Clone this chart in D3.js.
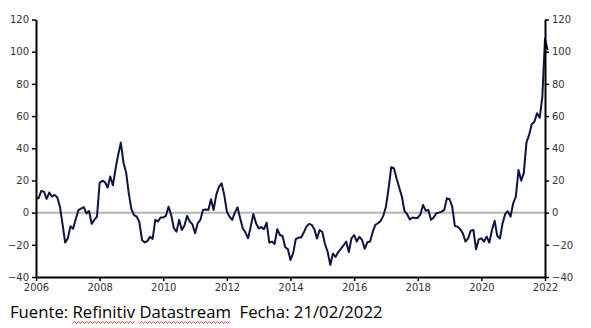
<!DOCTYPE html>
<html>
<head>
<meta charset="utf-8">
<script src="https://cdn.jsdelivr.net/npm/d3@7"></script>
<style>
  html, body { margin: 0; padding: 0; background: #ffffff; }
  svg { display: block; }
</style>
</head>
<body>
<svg id="chart" width="591" height="328"></svg>
<script>
// Monthly series, starting January 2006
const startYear = 2006;
const monthlyValues = [
  9, 9, 13.5, 13, 8.5, 12.5, 10, 11, 9.5, 4, -7, -18.6,            // 2006
  -16, -8.5, -10, -4, 1.5, 2.5, 3.5, -0.5, 1, -7, -4.5, -2.5,      // 2007
  18.5, 19.8, 19, 15.5, 22.5, 17, 27, 36, 43.5, 31, 25, 12,        // 2008
  2, -1.5, -2.5, -6, -17, -18.5, -17.7, -15, -16.3, -4.5, -5.5, -3, // 2009
  -3, -2, 3.7, -1.4, -9.7, -11.8, -4.5, -10.8, -8, -2, -5.6, -7.2, // 2010
  -12.8, -6.6, -4.5, 1.7, 2, 1.7, 8.3, 1.7, 11, 16, 18.2, 11,      // 2011
  0.6, -2.5, -4.5, 0, 3.3, -3.5, -9.7, -12.4, -15.9, -8.7, -0.8, -6.6, // 2012
  -9.7, -9, -10.3, -6.2, -18.6, -18, -19.5, -10.3, -13.9, -14.5, -21.5, -22.7, // 2013
  -29.4, -25.2, -16.5, -15.5, -15.5, -12.4, -8.7, -7, -7.6, -10.3, -16, -10.8, // 2014
  -12, -19.5, -24.2, -32.5, -25.5, -27.5, -24.5, -22.5, -20.4, -18, -24.5, -16, // 2015
  -13.9, -18, -15, -17, -22.5, -18.4, -18, -12, -7.6, -6.6, -5.2, -2, // 2016
  3.7, 15.1, 28.2, 27.6, 21.3, 15.6, 10, 1, -1, -4.3, -3, -3.3,    // 2017
  -3.3, -1, 4.8, 1.2, 1.7, -4.5, -3, -0.4, 0, 0.6, 1.7, 8.9,       // 2018
  8.3, 3.7, -8.3, -8.7, -10.3, -12.8, -18, -16, -11.2, -10.8, -22.8, -16.6, // 2019
  -16, -18, -14.9, -18.6, -10.8, -5, -14.5, -16.1, -6.6, -0.8, 0.8, -2.5, // 2020
  5.8, 9.9, 26.5, 19.9, 24.5, 43.5, 48.3, 54.9, 56.5, 61.7, 59, 72, // 2021
  108, 101                                                          // 2022
];
const yTickValues = [-40, -20, 0, 20, 40, 60, 80, 100, 120];
const xTickYears = [2006, 2008, 2010, 2012, 2014, 2016, 2018, 2020, 2022];
const footerParts = [
  { text: "Fuente: ", flagged: false },
  { text: "Refinitiv", flagged: true },
  { text: " ", flagged: false },
  { text: "Datastream", flagged: true },
  { text: "  Fecha: 21/02/2022", flagged: false }
];

const series = monthlyValues.map((v, i) => ({ t: startYear + i / 12, v }));

const svg = d3.select("#chart");
const plot = { left: 36, right: 545, top: 19.5, bottom: 277 };

const x = d3.scaleLinear().domain([2006, 2022]).range([plot.left, plot.right]);
const y = d3.scaleLinear().domain([-40, 120]).range([plot.bottom, plot.top]);

// zero reference line
svg.append("line")
  .attr("x1", plot.left).attr("x2", plot.right)
  .attr("y1", y(0)).attr("y2", y(0))
  .attr("stroke", "#b4b4b4").attr("stroke-width", 2);

// series line
svg.append("path")
  .datum(series)
  .attr("fill", "none")
  .attr("stroke", "#0c1444")
  .attr("stroke-width", 2)
  .attr("stroke-linejoin", "round")
  .attr("d", d3.line().x(d => x(d.t)).y(d => y(d.v)));

function styleAxis(g) {
  g.select(".domain").attr("stroke", "#000").attr("stroke-width", 2);
  g.selectAll(".tick line").attr("stroke", "#000").attr("stroke-width", 1.5);
  g.selectAll(".tick text")
    .attr("fill", "#333")
    .style("font-family", "'DejaVu Sans', Verdana, sans-serif")
    .style("font-size", "10px");
}

svg.append("g")
  .attr("transform", `translate(${plot.left},0)`)
  .call(d3.axisLeft(y).tickValues(yTickValues).tickSize(4).tickSizeOuter(0).tickPadding(3))
  .call(styleAxis);

svg.append("g")
  .attr("transform", `translate(${plot.right},0)`)
  .call(d3.axisRight(y).tickValues(yTickValues).tickSize(4).tickSizeOuter(0).tickPadding(3))
  .call(styleAxis);

svg.append("g")
  .attr("transform", `translate(0,${plot.bottom})`)
  .call(d3.axisBottom(x).tickValues(xTickYears).tickFormat(d3.format("d")).tickSize(4).tickSizeOuter(0).tickPadding(3))
  .call(styleAxis);

// source line, sized to span its full width
const footerLeft = 10, footerRight = 383, footerBaseline = 318;
const footer = svg.append("text")
  .attr("x", footerLeft).attr("y", footerBaseline)
  .attr("fill", "#000")
  .style("font-family", "'Open Sans', sans-serif")
  .style("font-size", "15px")
  .style("white-space", "pre");
footer.selectAll("tspan")
  .data(footerParts)
  .join("tspan")
  .text(d => d.text);
const node = footer.node();
const naturalWidth = node.getComputedTextLength();
footer.style("font-size", (15 * (footerRight - footerLeft) / naturalWidth).toFixed(2) + "px");

// wavy underline beneath flagged words
let offset = 0;
footerParts.forEach(p => {
  if (p.flagged) {
    const x0 = node.getStartPositionOfChar(offset).x;
    const x1 = node.getEndPositionOfChar(offset + p.text.length - 1).x;
    const pts = [];
    const step = 2;
    for (let xx = x0, k = 0; xx <= x1; xx += step, k++) {
      pts.push([xx, footerBaseline + 4.5 + (k % 2 ? -1 : 1)]);
    }
    svg.append("path")
      .attr("d", d3.line()(pts))
      .attr("fill", "none")
      .attr("stroke", "#e02020")
      .attr("stroke-width", 0.9);
  }
  offset += p.text.length;
});
</script>
</body>
</html>
